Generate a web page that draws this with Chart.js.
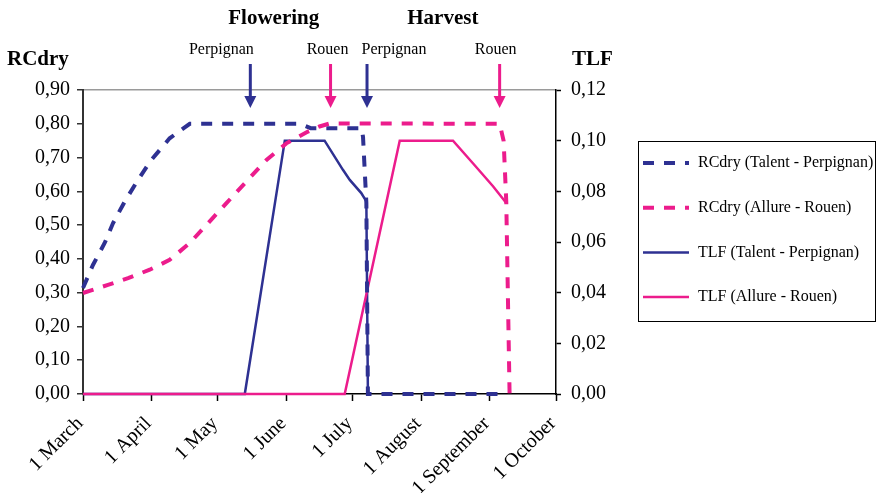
<!DOCTYPE html>
<html><head><meta charset="utf-8">
<script src="https://cdn.jsdelivr.net/npm/chart.js@4/dist/chart.umd.min.js"></script>
<style>html,body{margin:0;padding:0;background:#fff;}#wrap{width:876px;height:493px;position:relative;}</style>
</head><body><div id="wrap"><canvas id="c" width="876" height="493"></canvas></div>
<script>
// ---- data ----
const xTickDays = [0, 31, 61, 92, 122, 153, 184, 214];
const xTickLabels = ['1 March', '1 April', '1 May', '1 June', '1 July', '1 August', '1 September', '1 October'];
const seriesNames = ['RCdry (Talent - Perpignan)', 'RCdry (Allure - Rouen)', 'TLF (Talent - Perpignan)', 'TLF (Allure - Rouen)'];

const rcTalentDays   = [0, 4.5, 9.8, 13.6, 18.9, 24.9, 30.9, 39.2, 48.3, 98, 103, 126.1, 126.7, 128.2, 128.9, 191.6];
const rcTalentValues = [0.314, 0.382, 0.447, 0.506, 0.570, 0.634, 0.693, 0.757, 0.800, 0.800, 0.787, 0.787, 0.760, 0.566, 0, 0];

const rcAllureDays   = [0, 11.3, 20.4, 30.2, 39.2, 48.3, 56.6, 64.9, 73.9, 83, 92, 101.8, 107, 111.6, 188.5, 190.3, 191.5, 193];
const rcAllureValues = [0.299, 0.323, 0.343, 0.368, 0.397, 0.447, 0.506, 0.565, 0.629, 0.693, 0.742, 0.777, 0.792, 0.801, 0.800, 0.750, 0.570, 0];

const tlfTalentDays   = [0, 73.2, 91.3, 109.3, 117.6, 120.7, 125.9, 128.2, 128.9];
const tlfTalentValues = [0, 0, 0.100, 0.100, 0.0885, 0.0845, 0.0793, 0.076, 0];

const tlfAllureDays   = [0, 118.4, 143.3, 167.4, 176.5, 185.5, 191.6];
const tlfAllureValues = [0, 0, 0.100, 0.100, 0.091, 0.082, 0.0753];

const stageNames = ['Flowering', 'Harvest'];
const eventDays  = [75.7, 112, 128.5, 188.5];
const eventSites = ['Perpignan', 'Rouen', 'Perpignan', 'Rouen'];

// ---- style ----
const SERIF = "'Liberation Serif','Times New Roman',serif";
const BLUE = '#2E3192', PINK = '#EC1C8C';
const siteColor = {Perpignan: BLUE, Rouen: PINK};
const stageCenterDays = [86.3, 162.8];
const eventLabelShift = [-29, -3, 27, -4];

const pts = (d, v) => d.map((x, i) => ({x: x, y: v[i]}));
const fmt = v => Number(v).toFixed(2).replace('.', ',');

const annot = {
  id: 'annot',
  afterDraw(chart) {
    const ctx = chart.ctx, x = chart.scales.x;
    ctx.save();
    ctx.fillStyle = '#000';
    ctx.textBaseline = 'middle';
    ctx.font = 'bold 21px ' + SERIF;
    ctx.textAlign = 'left';
    ctx.fillText('RCdry', 7, 60);
    ctx.fillText('TLF', 572, 60);
    ctx.textAlign = 'center';
    stageNames.forEach((s, i) => ctx.fillText(s, x.getPixelForValue(stageCenterDays[i]), 19));
    // arrows
    ctx.font = '16px ' + SERIF;
    eventDays.forEach((d, i) => {
      const ax = x.getPixelForValue(d);
      const col = siteColor[eventSites[i]];
      ctx.fillStyle = '#000';
      ctx.textAlign = 'center';
      ctx.fillText(eventSites[i], ax + eventLabelShift[i], 50);
      ctx.strokeStyle = col; ctx.fillStyle = col;
      ctx.lineWidth = 3; ctx.setLineDash([]);
      ctx.beginPath(); ctx.moveTo(ax, 64); ctx.lineTo(ax, 98); ctx.stroke();
      ctx.beginPath(); ctx.moveTo(ax - 6, 96); ctx.lineTo(ax + 6, 96); ctx.lineTo(ax, 108); ctx.closePath(); ctx.fill();
    });
    // legend
    ctx.strokeStyle = '#000'; ctx.lineWidth = 1; ctx.setLineDash([]);
    ctx.strokeRect(638.5, 141.5, 237, 180);
    ctx.font = '16px ' + SERIF;
    ctx.textAlign = 'left';
    chart.data.datasets.forEach((ds, i) => {
      const y = 163 + i * 44.7;
      ctx.strokeStyle = ds.borderColor; ctx.lineWidth = ds.borderWidth;
      ctx.setLineDash(ds.borderDash || []);
      ctx.lineCap = 'butt';
      ctx.beginPath(); ctx.moveTo(643, y); ctx.lineTo(689, y); ctx.stroke();
      ctx.setLineDash([]);
      ctx.fillStyle = '#000';
      ctx.fillText(ds.label, 698, y);
    });
    ctx.restore();
  }
};

new Chart(document.getElementById('c'), {
  type: 'line',
  data: {datasets: [
    {label: seriesNames[0], data: pts(rcTalentDays, rcTalentValues), yAxisID: 'y', borderColor: BLUE, borderWidth: 4, borderDash: [11, 10], order: 1},
    {label: seriesNames[1], data: pts(rcAllureDays, rcAllureValues), yAxisID: 'y', borderColor: PINK, borderWidth: 4, borderDash: [11, 10], order: 0},
    {label: seriesNames[2], data: pts(tlfTalentDays, tlfTalentValues), yAxisID: 'y2', borderColor: BLUE, borderWidth: 2.5, order: 3},
    {label: seriesNames[3], data: pts(tlfAllureDays, tlfAllureValues), yAxisID: 'y2', borderColor: PINK, borderWidth: 2.5, order: 2}
  ]},
  options: {
    responsive: false, animation: false, devicePixelRatio: 1,
    layout: {padding: {top: 90, left: 0, right: 0, bottom: 0}},
    elements: {point: {radius: 0}, line: {tension: 0, borderCapStyle: 'butt', borderJoinStyle: 'miter'}},
    datasets: {line: {clip: 8}},
    plugins: {legend: {display: false}, tooltip: {enabled: false}},
    scales: {
      x: {
        type: 'linear', min: 0, max: 214,
        afterBuildTicks: s => { s.ticks = xTickDays.map(v => ({value: v})); },
        ticks: {callback: (v, i) => xTickLabels[i], autoSkip: false, maxRotation: 45, minRotation: 45,
                font: {family: SERIF, size: 20}, color: '#000', padding: 11, labelOffset: -3},
        grid: {drawOnChartArea: false, tickLength: 7, tickColor: '#000', tickWidth: 1.5},
        border: {color: '#000', width: 1.5},
        afterFit: s => { s.height = 99; }
      },
      y: {
        position: 'left', min: 0, max: 0.9,
        ticks: {stepSize: 0.1, callback: v => fmt(v), font: {family: SERIF, size: 20}, color: '#000', padding: 7},
        grid: {color: c => (c.tick && Math.abs(c.tick.value - 0.9) < 1e-6) ? '#9a9a9a' : 'rgba(0,0,0,0)',
               lineWidth: 1.5, tickLength: 6, tickColor: '#333', tickWidth: 1.5},
        border: {color: '#333', width: 2},
        afterFit: s => { s.width = 83; }
      },
      y2: {
        position: 'right', min: 0, max: 0.12,
        ticks: {stepSize: 0.02, callback: v => fmt(v), font: {family: SERIF, size: 20}, color: '#000', padding: 10},
        grid: {drawOnChartArea: false, tickLength: 5, tickColor: '#000', tickWidth: 1.5},
        border: {color: '#000', width: 1.5},
        afterFit: s => { s.width = 320; }
      }
    }
  },
  plugins: [annot]
});
</script></body></html>
